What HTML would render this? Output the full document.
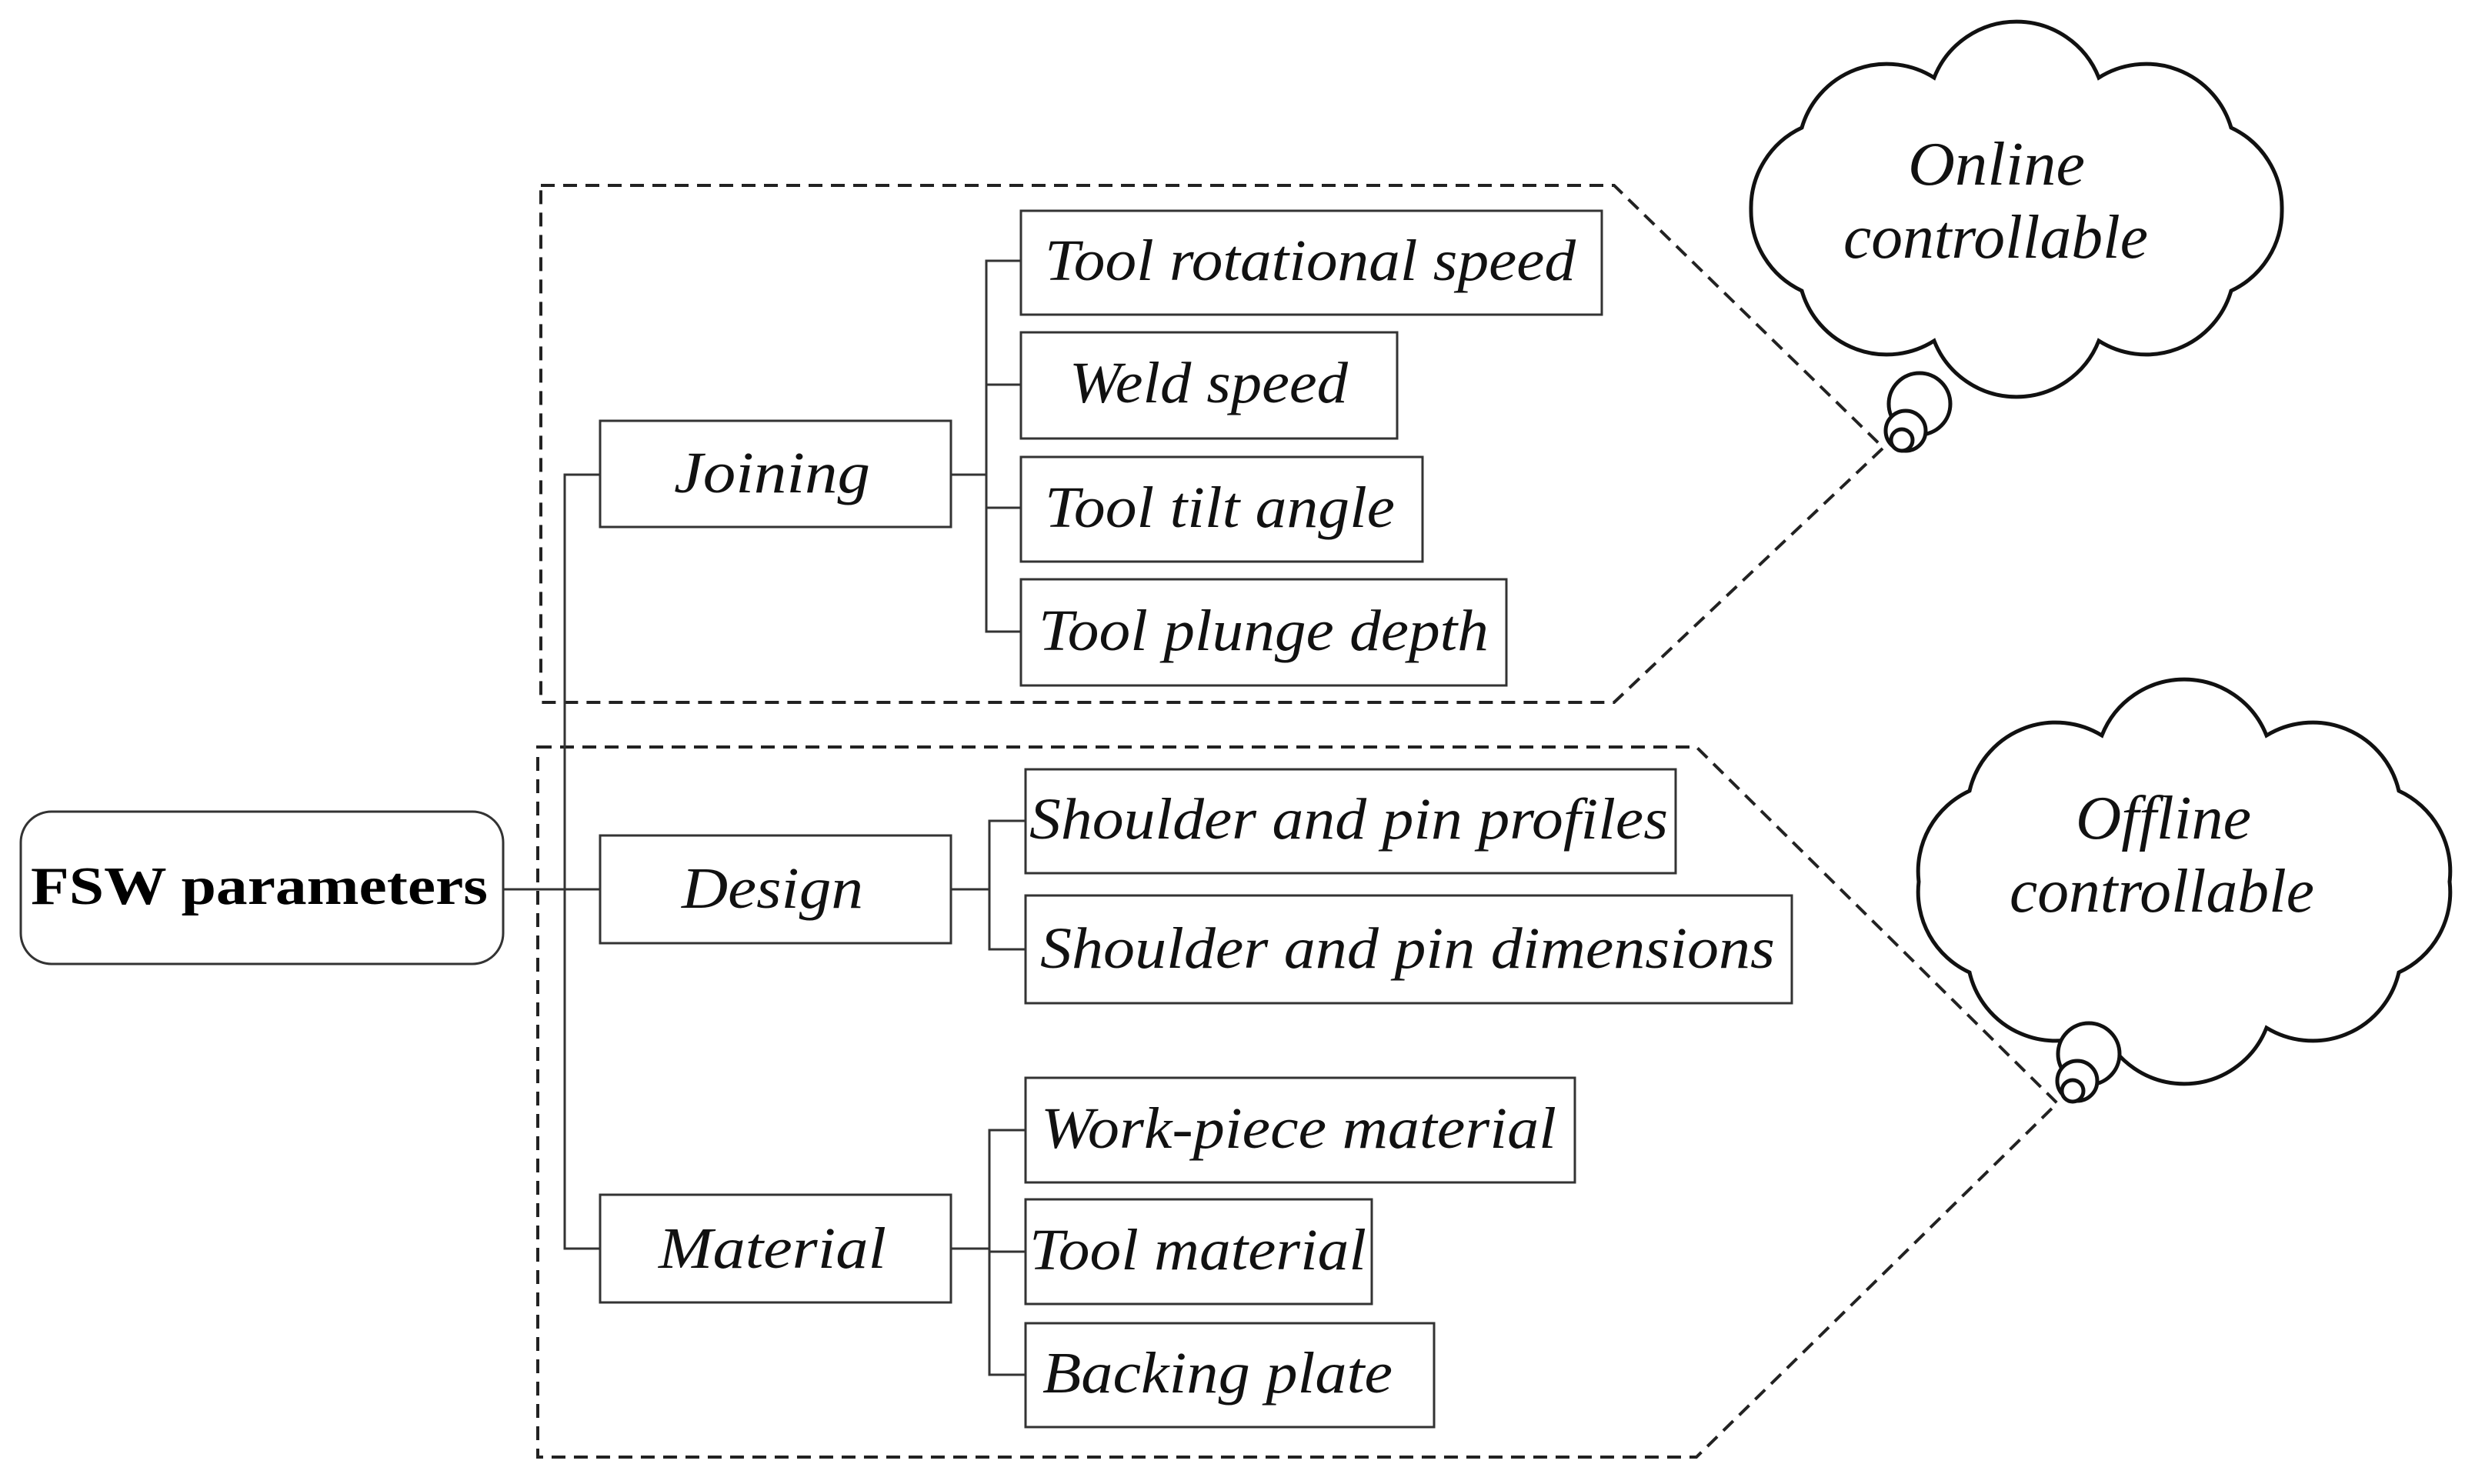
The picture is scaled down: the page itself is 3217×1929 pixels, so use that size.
<!DOCTYPE html>
<html><head><meta charset="utf-8"><style>html,body{margin:0;padding:0;background:#fff}svg{display:block}</style></head>
<body>
<svg width="3217" height="1929" viewBox="0 0 3217 1929" xmlns="http://www.w3.org/2000/svg">
<g fill="none" stroke="#222" stroke-width="4" stroke-dasharray="18 11">
<polyline points="703,241 2098,241 2448,582 2098,913 703,913 703,241"/>
<polygon points="699,971 2205,971 2674,1434 2205,1894 699,1894"/>
</g>
<g fill="none" stroke="#333" stroke-width="3">
<rect x="27" y="1055" width="627" height="198" rx="40"/>
<rect x="780" y="547" width="456" height="138"/>
<rect x="780" y="1086" width="456" height="140"/>
<rect x="780" y="1553" width="456" height="140"/>
<rect x="1327" y="274" width="755" height="135"/>
<rect x="1327" y="432" width="489" height="138"/>
<rect x="1327" y="594" width="522" height="136"/>
<rect x="1327" y="753" width="631" height="138"/>
<rect x="1333" y="1000" width="845" height="135"/>
<rect x="1333" y="1164" width="996" height="140"/>
<rect x="1333" y="1401" width="714" height="136"/>
<rect x="1333" y="1559" width="450" height="136"/>
<rect x="1333" y="1720" width="531" height="135"/>
<polyline points="780,617 734,617 734,1623 780,1623"/>
<line x1="654" y1="1156" x2="780" y2="1156"/>
<line x1="1236" y1="617" x2="1282" y2="617"/>
<polyline points="1327,339 1282,339 1282,821 1327,821"/>
<line x1="1282" y1="500" x2="1327" y2="500"/>
<line x1="1282" y1="660" x2="1327" y2="660"/>
<line x1="1236" y1="1156" x2="1286" y2="1156"/>
<polyline points="1333,1067 1286,1067 1286,1234 1333,1234"/>
<line x1="1236" y1="1623" x2="1286" y2="1623"/>
<polyline points="1333,1469 1286,1469 1286,1787 1333,1787"/>
<line x1="1286" y1="1627" x2="1333" y2="1627"/>
</g>
<g fill="#fff" stroke="#111" stroke-width="5">
<path d="M2966,272 A115,115 0 0 1 2900,378 A115,115 0 0 1 2728,443 A115,115 0 0 1 2514,443 A115,115 0 0 1 2342,378 A115,115 0 0 1 2276,272 A115,115 0 0 1 2342,166 A115,115 0 0 1 2514,101 A115,115 0 0 1 2728,101 A115,115 0 0 1 2900,166 A115,115 0 0 1 2966,272 Z"/>
<circle cx="2495" cy="525" r="40"/><circle cx="2477" cy="560" r="26"/><circle cx="2472" cy="572" r="14"/>
<path d="M3184,1146 A115,115 0 0 1 3118,1264 A115,115 0 0 1 2946,1336 A115,115 0 0 1 2732,1336 A115,115 0 0 1 2560,1264 A115,115 0 0 1 2494,1146 A115,115 0 0 1 2560,1028 A115,115 0 0 1 2732,956 A115,115 0 0 1 2946,956 A115,115 0 0 1 3118,1028 A115,115 0 0 1 3184,1146 Z"/>
<circle cx="2715" cy="1370" r="40"/><circle cx="2700" cy="1405" r="26"/><circle cx="2694" cy="1418" r="14"/>
</g>
<g font-family="Liberation Serif, serif" font-style="italic" font-size="76" fill="#111">
<text x="876" y="640" textLength="255" lengthAdjust="spacingAndGlyphs">Joining</text>
<text x="886" y="1180" textLength="236" lengthAdjust="spacingAndGlyphs">Design</text>
<text x="856" y="1648" textLength="296" lengthAdjust="spacingAndGlyphs">Material</text>
<text x="1358" y="364" textLength="690" lengthAdjust="spacingAndGlyphs">Tool rotational speed</text>
<text x="1390" y="523" textLength="362" lengthAdjust="spacingAndGlyphs">Weld speed</text>
<text x="1358" y="685" textLength="455" lengthAdjust="spacingAndGlyphs">Tool tilt angle</text>
<text x="1350" y="845" textLength="585" lengthAdjust="spacingAndGlyphs">Tool plunge depth</text>
<text x="1338" y="1090" textLength="830" lengthAdjust="spacingAndGlyphs">Shoulder and pin profiles</text>
<text x="1352" y="1258" textLength="955" lengthAdjust="spacingAndGlyphs">Shoulder and pin dimensions</text>
<text x="1353" y="1492" textLength="670" lengthAdjust="spacingAndGlyphs">Work-piece material</text>
<text x="1338" y="1650" textLength="438" lengthAdjust="spacingAndGlyphs">Tool material</text>
<text x="1355" y="1810" textLength="455" lengthAdjust="spacingAndGlyphs">Backing plate</text>
<text x="2480" y="240" font-size="80" textLength="230" lengthAdjust="spacingAndGlyphs">Online</text>
<text x="2396" y="335" font-size="80" textLength="396" lengthAdjust="spacingAndGlyphs">controllable</text>
<text x="2698" y="1090" font-size="80" textLength="228" lengthAdjust="spacingAndGlyphs">Offline</text>
<text x="2612" y="1185" font-size="80" textLength="396" lengthAdjust="spacingAndGlyphs">controllable</text>
</g>
<text x="40" y="1175" font-family="Liberation Serif, serif" font-weight="bold" font-size="70" fill="#000" textLength="594" lengthAdjust="spacingAndGlyphs">FSW parameters</text>
</svg>
</body></html>
